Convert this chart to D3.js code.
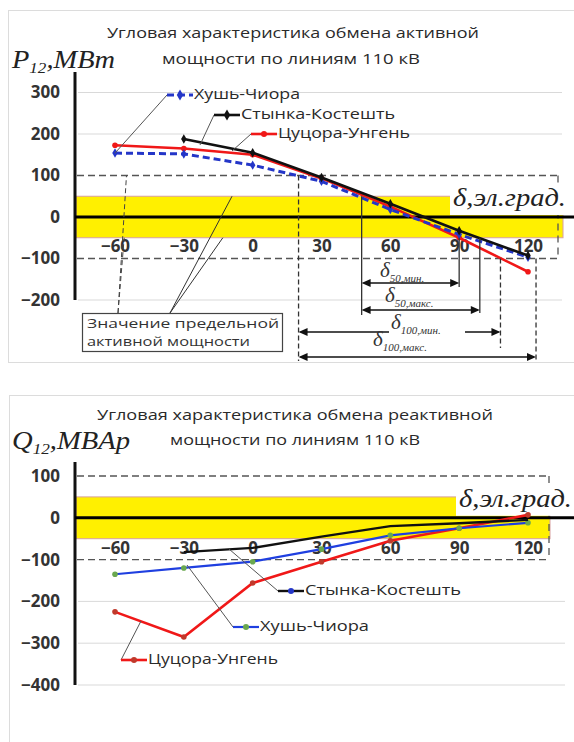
<!DOCTYPE html>
<html><head><meta charset="utf-8">
<script src="https://cdn.jsdelivr.net/npm/d3@7"></script>
<style>body{margin:0;background:#fff}svg{display:block}</style>
</head><body>
<script>
// ---------- data ----------
const angles = [-60,-30,0,30,60,90,120];
const xTickLabels = [-60,-30,0,30,60,90,120];
const pTicks = [300,200,100,0,-100,-200];
const qTicks = [100,0,-100,-200,-300,-400];
const seriesNames = ["Хушь-Чиора","Стынка-Костешть","Цуцора-Унгень"];
const pHush     = [154,152,125,86,18,-42,-97];
const pStynka   = [null,188,155,95,32,-33,-93];
const pTsutsora = [173,165,150,93,25,-50,-132];
const qHush     = [-135,-120,-105,-75,-42,-25,-12];
const qStynka   = [null,-82,-72,-45,-20,-13,-5];
const qTsutsora = [-225,-285,-156,-105,-55,-25,7];
const limitDashed = [100,-100];
const limitBand = [50,-50];
const deltaMarks = {s50:47.5, e50min:90, e50max:99, s100:20, e100min:108, e100max:123.5};

const SANS = "'Open Sans', 'Noto Sans', sans-serif";
const SERIF = "'Liberation Serif', 'DejaVu Serif', serif";
const C = {blue:"#2436c8", black:"#111", red:"#f01818", yellow:"#fff000", grid:"#d9d9d9", dash:"#555", text:"#333"};

const svg = d3.select("body").append("svg").attr("width",574).attr("height",742);

// outer borders
svg.append("rect").attr("x",8.5).attr("y",10.5).attr("width",580).attr("height",352).attr("fill","none").attr("stroke","#dcdcdc");
svg.append("rect").attr("x",9.5).attr("y",395.5).attr("width",580).attr("height",360).attr("fill","none").attr("stroke","#dcdcdc");

const x = d3.scaleLinear().domain([-60,120]).range([115,528]);

function txt(g, s, px, py, o={}) {
  const t = g.append("text").attr("x",px).attr("y",py).text(s)
    .attr("font-family", o.family||SANS).attr("font-size", o.size||15)
    .attr("fill", o.fill||C.text).attr("text-anchor", o.anchor||"start")
    .attr("dominant-baseline", o.base||"middle");
  if (o.weight) t.attr("font-weight", o.weight);
  if (o.style) t.attr("font-style", o.style);
  if (o.len) t.attr("textLength", o.len).attr("lengthAdjust","spacingAndGlyphs");
  return t;
}

function axisTitle(g, letter, sub, rest, px, py, len) {
  const t = g.append("text").attr("x",px).attr("y",py).attr("font-family",SERIF)
    .attr("font-style","italic").attr("fill","#222").attr("font-size",25);
  t.append("tspan").text(letter);
  t.append("tspan").text(sub).attr("font-size",15).attr("dy",5);
  t.append("tspan").text(rest).attr("dy",-5);
  if (len) t.attr("textLength",len).attr("lengthAdjust","spacingAndGlyphs");
}

function arrowHead(g, px, py, dir) {
  g.append("path").attr("d", `M${px},${py} l${-dir*9},-4 l0,8 z`).attr("fill","#111");
}

function panel(cfg) {
  const g = svg.append("g");
  const y = d3.scaleLinear().domain(cfg.domain).range(cfg.range);

  cfg.ticks.filter(v => Math.abs(v) > 100).forEach(v => {
    g.append("line").attr("x1",78).attr("x2",cfg.gridEnd).attr("y1",y(v)).attr("y2",y(v))
      .attr("stroke",C.grid).attr("stroke-width",1);
  });
  g.append("rect").attr("x",76).attr("y",y(limitBand[0])).attr("width",cfg.bandEnd-76)
    .attr("height",y(limitBand[1])-y(limitBand[0])).attr("fill",C.yellow)
    .attr("stroke","#d8a0a0").attr("stroke-width",1);
  limitDashed.forEach(v => {
    g.append("line").attr("x1",77).attr("x2",cfg.dashEnd).attr("y1",y(v)).attr("y2",y(v))
      .attr("stroke",C.dash).attr("stroke-width",1.3).attr("stroke-dasharray","7,4");
  });
  g.append("line").attr("x1",cfg.dashEnd).attr("x2",cfg.dashEnd).attr("y1",y(limitDashed[0])).attr("y2",y(limitDashed[1]))
    .attr("stroke",C.dash).attr("stroke-width",1.3).attr("stroke-dasharray","7,5");

  const xa = g.append("g").attr("transform",`translate(0,${cfg.xLabelY})`)
    .call(d3.axisBottom(x).tickValues(xTickLabels).tickSize(0).tickFormat(d3.format("d")));
  xa.select(".domain").remove();
  xa.selectAll("text").attr("y",0).attr("dy","0.35em").attr("font-family",SANS)
    .attr("font-size",17).attr("font-weight",700).attr("fill",C.text);

  const ya = g.append("g").attr("transform","translate(60,0)")
    .call(d3.axisLeft(y).tickValues(cfg.ticks).tickSize(0).tickPadding(0).tickFormat(d3.format("d")));
  ya.select(".domain").remove();
  ya.selectAll("text").attr("font-family",SANS).attr("font-size",17).attr("font-weight",700).attr("fill",C.text);

  g.append("line").attr("x1",75).attr("x2",75).attr("y1",cfg.axisTop).attr("y2",y(cfg.domain[0]))
    .attr("stroke","#111").attr("stroke-width",3);

  g.append("rect").attr("x",cfg.dLabelX-3).attr("y",y(0)-cfg.dLabelH).attr("width",140).attr("height",cfg.dLabelH-2).attr("fill","#fff");
  txt(g, "δ,эл.град.", cfg.dLabelX, y(0)-11, {family:SERIF, style:"italic", size:25, fill:"#222", base:"auto", len:113});

  g.append("line").attr("x1",75).attr("x2",574).attr("y1",y(0)).attr("y2",y(0)).attr("stroke","#000").attr("stroke-width",3);

  txt(g, cfg.title1, cfg.t1x, cfg.t1y, {size:15, len:cfg.t1len, fill:"#2a2a2a"});
  txt(g, cfg.title2, cfg.t2x, cfg.t2y, {size:15, len:cfg.t2len, fill:"#2a2a2a"});
  axisTitle(g, cfg.axLetter, "12", cfg.axRest, 12, cfg.t2y+8, cfg.axLen);

  return {g, y};
}

function drawSeries(g, y, vals, o) {
  const line = d3.line().defined(d => d.v != null).x(d => x(d.a)).y(d => y(d.v));
  const data = angles.map((a,i) => ({a, v: vals[i]}));
  g.append("path").datum(data).attr("d",line).attr("fill","none").attr("stroke",o.color)
    .attr("stroke-width",o.width).attr("stroke-dasharray",o.dash||null);
  if (o.marker) {
    data.filter(d => d.v != null).forEach(d => {
      if (o.marker === "diamond")
        g.append("path").attr("d", d3.symbol(d3.symbolDiamond, 26)()).attr("transform",`translate(${x(d.a)},${y(d.v)})`).attr("fill",o.mcolor||o.color);
      else
        g.append("circle").attr("cx",x(d.a)).attr("cy",y(d.v)).attr("r",o.r||2.8).attr("fill",o.mcolor||o.color);
    });
  }
}

function legendItem(g, name, kx, ky, o, leaderTo) {
  g.append("line").attr("x1",leaderTo[0]).attr("y1",leaderTo[1]).attr("x2",kx).attr("y2",ky)
    .attr("stroke","#555").attr("stroke-width",1);
  g.append("line").attr("x1",kx).attr("x2",kx+26).attr("y1",ky).attr("y2",ky).attr("stroke",o.color)
    .attr("stroke-width",o.width).attr("stroke-dasharray",o.dash||null);
  if (o.marker === "diamond")
    g.append("path").attr("d", d3.symbol(d3.symbolDiamond, 36)()).attr("transform",`translate(${kx+13},${ky})`).attr("fill",o.mcolor||o.color);
  else if (o.marker)
    g.append("circle").attr("cx",kx+13).attr("cy",ky).attr("r",3).attr("fill",o.mcolor||o.color);
  txt(g, name, kx+27, ky, {size:15, len:o.len, fill:"#2a2a2a"});
}

// ================= P panel =================
const P = panel({domain:[-200,300], range:[300,92.5], ticks:pTicks, gridEnd:562, bandEnd:563, dashEnd:558,
  xLabelY:246, axisTop:72, dLabelX:453, dLabelH:32,
  title1:"Угловая характеристика обмена активной", t1x:107, t1y:34, t1len:372,
  title2:"мощности по линиям 110 кВ", t2x:162, t2y:60, t2len:258,
  axLetter:"P", axRest:",MBm", axLen:103});

const sP = {
  hush:{color:C.blue, width:3, dash:"7,4", marker:"diamond"},
  stynka:{color:C.black, width:2.6, marker:"diamond"},
  tsutsora:{color:C.red, width:2.6, marker:"circle"}
};
drawSeries(P.g, P.y, pTsutsora, sP.tsutsora);
drawSeries(P.g, P.y, pHush, sP.hush);
drawSeries(P.g, P.y, pStynka, sP.stynka);

legendItem(P.g, seriesNames[0], 167, 95, {...sP.hush, len:106}, [x(-60), P.y(pHush[0])]);
legendItem(P.g, seriesNames[1], 214, 115, {...sP.stynka, len:154}, [200, 145]);
legendItem(P.g, seriesNames[2], 251, 134, {...sP.tsutsora, len:132}, [232, 151]);

// limit annotation box
(function(){
  const g = P.g;
  const bx0 = 118, bx1 = 170, by = 313;
  [[bx0, x(-55), P.y(100)], [bx0, x(-56), P.y(-50)]].forEach(([sx,ex,ey]) =>
    g.append("line").attr("x1",sx).attr("y1",by).attr("x2",ex).attr("y2",ey).attr("stroke","#444").attr("stroke-width",1).attr("stroke-dasharray","5,3"));
  [[bx1, x(-9), P.y(50)], [bx1, x(-13), P.y(-50)]].forEach(([sx,ex,ey]) =>
    g.append("line").attr("x1",sx).attr("y1",by).attr("x2",ex).attr("y2",ey).attr("stroke","#333").attr("stroke-width",1));
  g.append("rect").attr("x",82.5).attr("y",313.5).attr("width",200).attr("height",38).attr("fill","#fff").attr("stroke","#444").attr("stroke-width",1.2);
  txt(g, "Значение предельной", 87, 324, {size:13.5, len:192});
  txt(g, "активной мощности", 87, 342, {size:13.5, len:163});
})();

// delta dimension annotations
(function(){
  const g = P.g, y = P.y, m = deltaMarks;
  const vl = (d, y1, y2, dashed) => g.append("line").attr("x1",x(d)).attr("x2",x(d)).attr("y1",y1).attr("y2",y2)
      .attr("stroke","#333").attr("stroke-width",1.3).attr("stroke-dasharray",dashed?"5,3":null);
  vl(m.s50, y(50), 315); vl(m.e50min, y(-50), 287); vl(m.e50max, y(-50), 313);
  vl(m.s100, y(100), 361, true); vl(m.e100min, y(-100), 348, true); vl(m.e100max, y(-100), 361, true);

  function dim(d1, d2, ay, label, sub, lx, ly, bg) {
    const x1 = x(d1), x2 = x(d2);
    g.append("line").attr("x1",x1+2).attr("x2",x2-2).attr("y1",ay).attr("y2",ay).attr("stroke","#111").attr("stroke-width",1.5);
    arrowHead(g, x1, ay, -1); arrowHead(g, x2, ay, 1);
    if (bg) g.append("rect").attr("x",lx-2).attr("y",ly-16).attr("width",bg).attr("height",22).attr("fill","#fff");
    const t = g.append("text").attr("x",lx).attr("y",ly).attr("font-family",SERIF).attr("font-style","italic").attr("fill","#333");
    t.append("tspan").text(label).attr("font-size",21);
    t.append("tspan").text(sub).attr("font-size",11).attr("dy",5);
  }
  dim(m.s50, m.e50min, 283, "δ", "50,мин.", 380, 277);
  dim(m.s50, m.e50max, 310, "δ", "50,макс.", 385, 302);
  dim(m.s100, m.e100min, 332, "δ", "100,мин.", 391, 329, 76);
  dim(m.s100, m.e100max, 357, "δ", "100,макс.", 373, 346);
})();

// ================= Q panel =================
const Q = panel({domain:[-400,100], range:[685,476], ticks:qTicks, gridEnd:565, bandEnd:550, dashEnd:549,
  xLabelY:548, axisTop:462, dLabelX:459, dLabelH:32,
  title1:"Угловая характеристика обмена реактивной", t1x:97, t1y:416, t1len:396,
  title2:"мощности по линиям 110 кВ", t2x:170, t2y:441, t2len:250,
  axLetter:"Q", axRest:",MBAp", axLen:118});

const sQ = {
  hush:{color:"#1f3fe0", width:2.2, marker:"circle", mcolor:"#6aa84f"},
  stynka:{color:C.black, width:2.4, marker:null},
  tsutsora:{color:C.red, width:2.6, marker:"circle", mcolor:"#c0392b"}
};
drawSeries(Q.g, Q.y, qTsutsora, sQ.tsutsora);
drawSeries(Q.g, Q.y, qHush, sQ.hush);
drawSeries(Q.g, Q.y, qStynka, sQ.stynka);

legendItem(Q.g, seriesNames[1], 278, 591, {...sQ.stynka, marker:"circle", mcolor:"#2436c8", len:156}, [229, 549]);
legendItem(Q.g, seriesNames[0], 233, 627, {...sQ.hush, len:109}, [187, 565]);
legendItem(Q.g, seriesNames[2], 121, 660, {...sQ.tsutsora, len:130}, [141, 621]);
</script>
</body></html>
